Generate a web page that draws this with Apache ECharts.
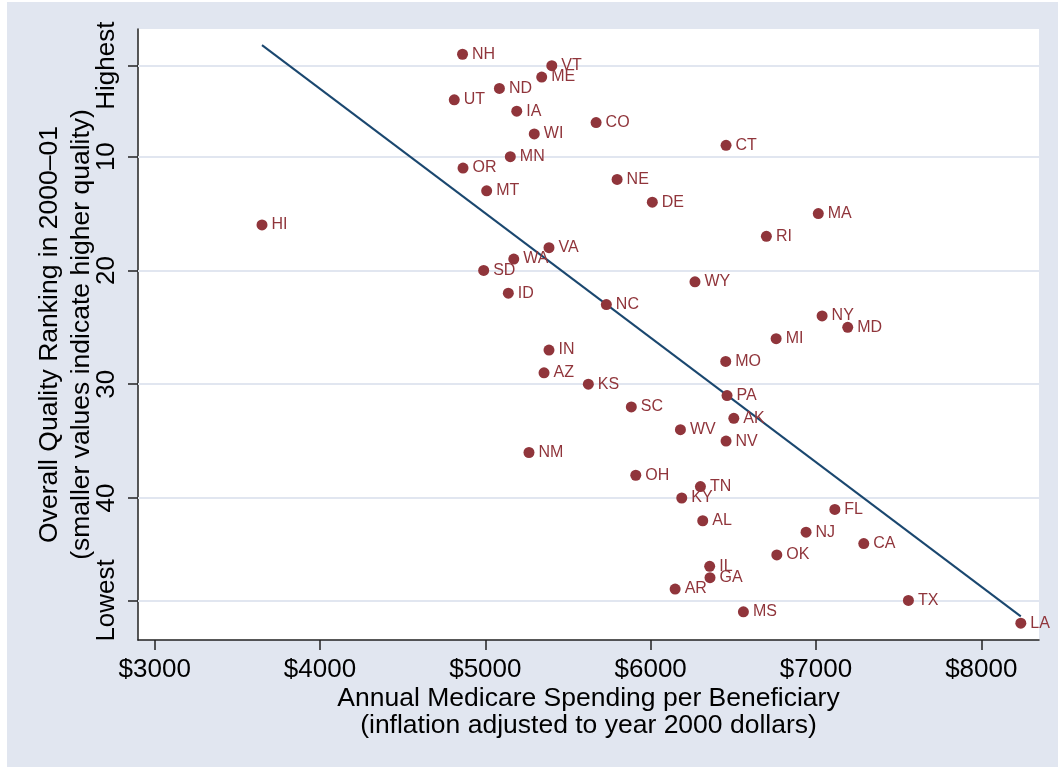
<!DOCTYPE html>
<html>
<head>
<meta charset="utf-8">
<script src="https://cdn.jsdelivr.net/npm/echarts@6/dist/echarts.min.js"></script>
<style>
  html, body { margin: 0; padding: 0; background: #ffffff; }
  #bg { position: absolute; left: 7px; top: 2px; width: 1051px; height: 765px; background: #e1e6f0; }
  #chart { position: absolute; left: 0; top: 0; width: 1058px; height: 769px; }
</style>
</head>
<body>
<div id="bg"></div>
<div id="chart"></div>
<script>
// State abbreviations
const states = ["NH","VT","ME","ND","UT","IA","CO","WI","CT","MN","OR","NE","MT","DE","MA","HI","RI","VA","WA","SD","WY","ID","NC","NY","MD","MI","IN","MO","AZ","KS","PA","SC","AK","WV","NV","NM","OH","TN","KY","FL","AL","NJ","CA","OK","IL","GA","AR","TX","MS","LA"];
// Annual Medicare spending per beneficiary (2000 dollars)
const spending = [4862,5402,5341,5085,4812,5190,5670,5296,6456,5151,4865,5797,5008,6010,7014,3649,6700,5385,5172,4990,6268,5139,5732,7037,7192,6759,5385,6454,5355,5623,6462,5883,6503,6180,6456,5264,5910,6301,6188,7114,6315,6940,7289,6763,6357,6359,6148,7559,6561,8239];
// Overall quality ranking 2000-01
const ranking = [1,2,3,4,5,6,7,8,9,10,11,12,13,14,15,16,17,18,19,20,21,22,23,24,25,26,27,28,29,30,31,32,33,34,35,36,38,39,40,41,42,43,44,45,46,47,48,49,50,51];
// Fitted line end points [spending, ranking]
const fitLine = [[3649, 0.2], [8239, 50.4]];
// Axis ticks
const xTicks = [3000, 4000, 5000, 6000, 7000, 8000];
const yTicks = [2, 10, 20, 30, 40, 49];
const yTickLabels = {2: "Highest", 49: "Lowest"};

const FONT = "'Liberation Sans', Arial, Helvetica, sans-serif";
const MAROON = '#90353b';
const NAVY = '#1a476f';
const GRID = '#e1e6f0';

const chart = echarts.init(document.getElementById('chart'), null, {renderer: 'canvas'});
chart.setOption({
  backgroundColor: 'transparent',
  animation: false,
  textStyle: { fontFamily: FONT },
  grid: { left: 138, top: 29, right: 19, bottom: 129, show: true, backgroundColor: '#ffffff', borderWidth: 0 },
  xAxis: {
    type: 'value', min: 2899, max: 8349,
    axisLine: { show: true, onZero: false, lineStyle: { color: '#222', width: 1.5 } },
    axisTick: { show: true, length: 10, customValues: xTicks, lineStyle: { color: '#222', width: 1.5 } },
    axisLabel: { customValues: xTicks, formatter: v => '$' + v, fontSize: 26, color: '#000', margin: 17, fontFamily: FONT },
    splitLine: { show: false },
    name: 'Annual Medicare Spending per Beneficiary\n(inflation adjusted to year 2000 dollars)',
    nameLocation: 'middle', nameGap: 45, nameMoveOverlap: false,
    nameTextStyle: { fontSize: 26.5, color: '#000', lineHeight: 27, fontFamily: FONT, verticalAlign: 'top' }
  },
  yAxis: {
    type: 'value', inverse: true, min: -1.22, max: 52.48,
    axisLine: { show: true, onZero: false, lineStyle: { color: '#222', width: 1.5 } },
    axisTick: { show: true, length: 10, customValues: yTicks, lineStyle: { color: '#222', width: 1.5 } },
    axisLabel: { customValues: yTicks, rotate: 90, formatter: v => (yTickLabels[v] || String(v)), fontSize: 26, color: '#000', margin: 18, fontFamily: FONT },
    splitLine: { show: false },
    name: 'Overall Quality Ranking in 2000–01\n(smaller values indicate higher quality)',
    nameLocation: 'middle', nameGap: 40, nameRotate: 90, nameMoveOverlap: false,
    nameTextStyle: { fontSize: 26.5, color: '#000', lineHeight: 32, fontFamily: FONT }
  },
  series: [
    {
      type: 'line', data: [], silent: true, z: 1,
      markLine: {
        z: 1, silent: true, symbol: ['none', 'none'], label: { show: false },
        lineStyle: { color: GRID, width: 2, type: 'solid' },
        data: yTicks.map(t => ({ yAxis: t }))
      }
    },
    {
      type: 'line', data: fitLine, symbol: 'none', z: 2, silent: true,
      lineStyle: { color: NAVY, width: 2 }
    },
    {
      type: 'scatter', z: 3,
      data: states.map((s, i) => [spending[i], ranking[i], s]),
      symbolSize: 11,
      itemStyle: { color: MAROON, opacity: 1 },
      label: { show: true, position: 'right', distance: 4, formatter: p => p.data[2], fontSize: 16, color: MAROON, fontFamily: FONT }
    }
  ]
});
</script>
</body>
</html>
